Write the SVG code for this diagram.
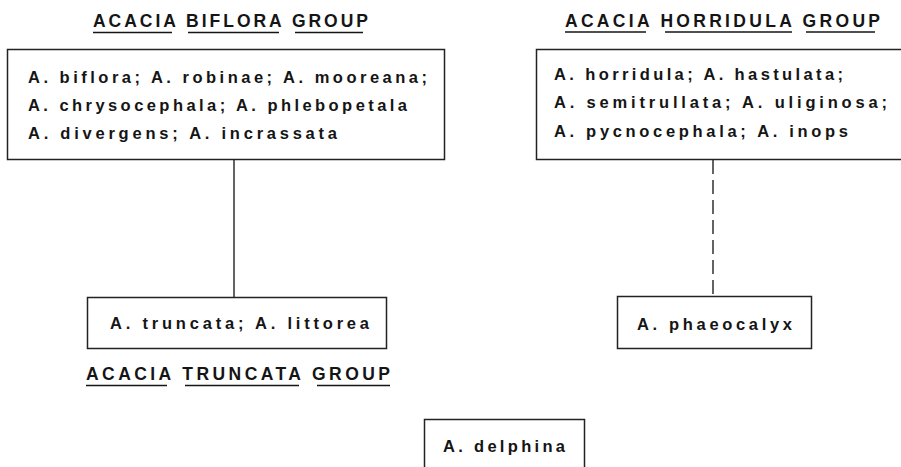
<svg xmlns="http://www.w3.org/2000/svg" width="901" height="467" viewBox="0 0 901 467">
<style>
.box{fill:#fff;stroke:#222;stroke-width:1.5}
.t{font-family:"Liberation Sans",Arial,sans-serif;font-size:16.5px;font-weight:bold;fill:#151515}
.h{font-family:"Liberation Sans",Arial,sans-serif;font-size:17.5px;font-weight:bold;fill:#151515}
.u{stroke:#151515;stroke-width:1.6}
.c{stroke:#222;stroke-width:1.4;fill:none}
</style>
<rect width="901" height="467" fill="#fff"/>
<g id="connectors">
<line class="c" x1="234" y1="159" x2="234" y2="297"/>
<line class="c" x1="713" y1="160" x2="713" y2="296" stroke-dasharray="14 6"/>
</g>
<g id="biflora-title">
<text class="h" x="93" y="27" textLength="275" lengthAdjust="spacing">ACACIA BIFLORA GROUP</text>
<line class="u" x1="93" y1="32.5" x2="172" y2="32.5"/>
<line class="u" x1="188" y1="32.5" x2="279" y2="32.5"/>
<line class="u" x1="295" y1="32.5" x2="363" y2="32.5"/>
</g>
<g id="biflora">
<rect class="box" x="7.5" y="49.5" width="437" height="110"/>
<text class="t" x="28" y="83" textLength="399" lengthAdjust="spacing">A. biflora; A. robinae; A. mooreana;</text>
<text class="t" x="28" y="111" textLength="379" lengthAdjust="spacing">A. chrysocephala; A. phlebopetala</text>
<text class="t" x="28" y="139" textLength="309" lengthAdjust="spacing">A. divergens; A. incrassata</text>
</g>
<g id="horridula-title">
<text class="h" x="565" y="27" textLength="315" lengthAdjust="spacing">ACACIA HORRIDULA GROUP</text>
<line class="u" x1="565" y1="32" x2="646" y2="32"/>
<line class="u" x1="665" y1="32" x2="792" y2="32"/>
<line class="u" x1="806" y1="32" x2="875" y2="32"/>
</g>
<g id="horridula">
<rect class="box" x="536.5" y="49.5" width="370" height="110"/>
<text class="t" x="554" y="80" textLength="289" lengthAdjust="spacing">A. horridula; A. hastulata;</text>
<text class="t" x="554" y="108" textLength="333" lengthAdjust="spacing">A. semitrullata; A. uliginosa;</text>
<text class="t" x="554" y="137" textLength="294" lengthAdjust="spacing">A. pycnocephala; A. inops</text>
</g>
<g id="truncata">
<rect class="box" x="87.5" y="297.5" width="299" height="51"/>
<text class="t" x="110" y="329" textLength="259" lengthAdjust="spacing">A. truncata; A. littorea</text>
</g>
<g id="truncata-title">
<text class="h" x="86" y="380" textLength="304" lengthAdjust="spacing">ACACIA TRUNCATA GROUP</text>
<line class="u" x1="86" y1="385.5" x2="167" y2="385.5"/>
<line class="u" x1="185" y1="385.5" x2="299" y2="385.5"/>
<line class="u" x1="317" y1="385.5" x2="390" y2="385.5"/>
</g>
<g id="phaeocalyx">
<rect class="box" x="617.5" y="296.5" width="194" height="52"/>
<text class="t" x="637" y="330" textLength="155" lengthAdjust="spacing">A. phaeocalyx</text>
</g>
<g id="delphina">
<rect class="box" x="424.5" y="419.5" width="160" height="60"/>
<text class="t" x="443" y="452" textLength="122" lengthAdjust="spacing">A. delphina</text>
</g>
</svg>
